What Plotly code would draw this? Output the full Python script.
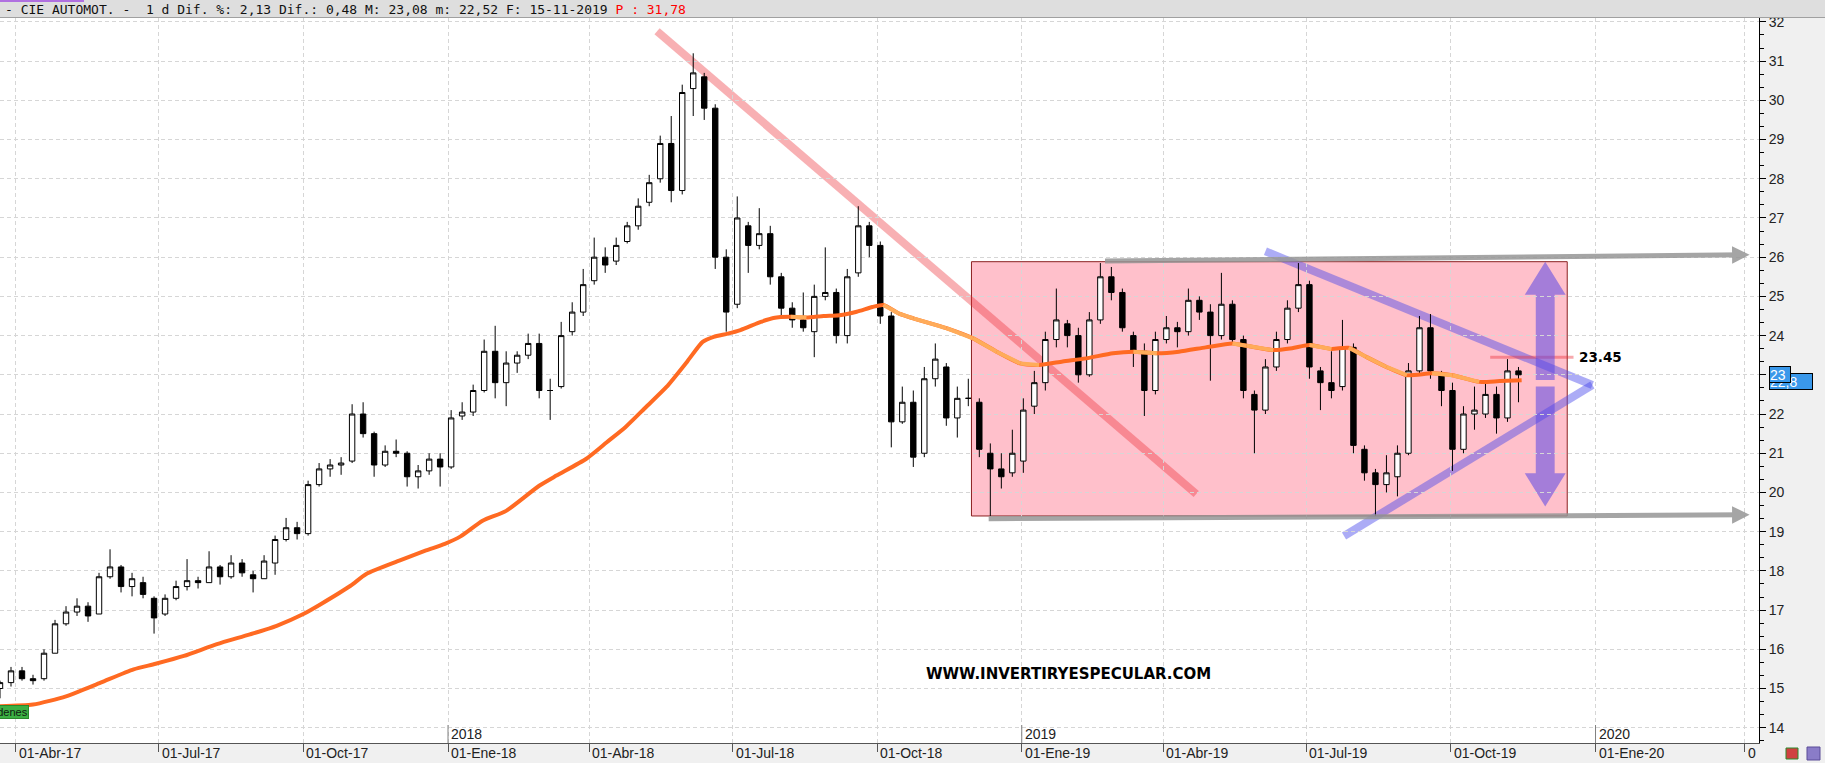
import pandas as pd
import plotly.graph_objects as go

# ---------------- data (weekly candles) ----------------
first_week = "2017-03-22"
opens = [15.0, 15.15, 15.45, 15.25, 15.25, 15.9, 16.65, 16.95, 17.1, 16.9,
         17.85, 18.1, 17.6, 17.7, 17.3, 16.9, 17.3, 17.6, 17.75, 17.7,
         18.1, 17.85, 18.2, 17.9, 17.8, 18.2, 18.8, 19.1, 18.95, 20.2,
         20.6, 20.7, 20.8, 22.0, 21.5, 20.7, 21.05, 21.0, 20.4, 20.55,
         20.85, 20.65, 21.95, 22.05, 22.6, 23.6, 22.8, 23.3, 23.5, 23.8,
         22.6, 22.7, 24.1, 24.6, 25.4, 26.0, 25.9, 26.4, 26.8, 27.4,
         28.0, 28.9, 27.7, 30.3, 30.6, 29.8, 26.0, 24.8, 26.8, 26.3,
         26.6, 25.5, 24.7, 24.4, 24.1, 25.0, 25.1, 24.0, 25.6, 26.8,
         26.3, 24.5, 21.8, 22.3, 21.0, 22.9, 23.2, 21.9, 22.4, 22.3,
         21.0, 20.6, 20.5, 20.8, 22.2, 22.8, 23.9, 24.3, 24.0, 23.0,
         24.4, 25.5, 25.1, 24.0, 23.6, 22.6, 23.9, 24.2, 24.1, 24.9,
         24.6, 24.0, 24.8, 23.9, 22.5, 22.1, 23.2, 23.9, 24.7, 25.3,
         23.1, 22.8, 22.7, 23.7, 21.1, 20.5, 20.2, 20.4, 21.0, 23.1,
         24.2, 23.0, 22.6, 21.1, 22.0, 22.0, 22.5, 21.9, 23.1]
highs = [15.2, 15.55, 15.55, 15.35, 16.0, 16.75, 17.1, 17.3, 17.2, 17.95,
         18.55, 18.15, 17.95, 17.85, 17.35, 17.4, 17.75, 18.3, 17.85, 18.5,
         18.15, 18.4, 18.3, 18.0, 18.4, 18.9, 19.35, 19.25, 20.3, 20.75,
         20.85, 20.9, 22.25, 22.3, 21.55, 21.2, 21.35, 21.05, 20.7, 21.0,
         21.0, 22.1, 22.3, 22.75, 23.9, 24.25, 23.6, 23.6, 24.05, 24.05,
         22.9, 24.35, 24.85, 25.7, 26.5, 26.25, 26.5, 26.9, 27.5, 28.1,
         29.1, 29.6, 30.4, 31.2, 30.7, 29.9, 26.2, 27.55, 26.9, 27.25,
         26.8, 25.6, 24.85, 25.1, 25.3, 26.25, 25.2, 25.7, 27.3, 26.9,
         26.4, 24.6, 22.7, 22.6, 23.2, 23.8, 23.3, 22.7, 22.9, 22.4,
         21.25, 21.0, 21.6, 22.4, 23.1, 24.1, 25.2, 24.4, 24.2, 24.6,
         25.85, 25.75, 25.2, 24.1, 23.8, 24.1, 24.5, 24.35, 25.2, 25.0,
         24.8, 25.6, 24.9, 24.0, 22.6, 23.4, 24.1, 24.9, 25.85, 25.4,
         23.2, 23.6, 24.4, 23.8, 21.2, 20.6, 20.95, 21.2, 23.3, 24.5,
         24.55, 23.1, 22.8, 22.2, 22.7, 22.8, 22.7, 23.4, 23.2]
lows = [14.75, 15.05, 15.2, 15.1, 15.2, 15.9, 16.6, 16.85, 16.7, 16.9,
        17.8, 17.45, 17.35, 17.3, 16.4, 16.85, 17.25, 17.5, 17.55, 17.7,
        17.65, 17.8, 17.85, 17.45, 17.8, 17.9, 18.75, 18.8, 18.9, 20.15,
        20.4, 20.45, 20.75, 21.4, 20.4, 20.65, 20.9, 20.15, 20.1, 20.45,
        20.15, 20.6, 21.85, 21.95, 22.55, 22.4, 22.2, 23.05, 23.4, 22.4,
        21.85, 22.65, 24.0, 24.5, 25.3, 25.6, 25.8, 26.35, 26.7, 27.3,
        27.9, 27.4, 27.6, 29.6, 29.5, 25.7, 24.1, 24.7, 25.6, 26.2,
        25.3, 24.5, 24.2, 24.1, 23.45, 24.9, 23.8, 23.8, 25.5, 26.0,
        24.3, 21.15, 21.75, 20.65, 20.9, 22.7, 21.7, 21.4, 22.2, 20.9,
        19.4, 20.1, 20.4, 20.5, 22.0, 22.6, 23.7, 23.7, 22.8, 22.95,
        24.3, 24.9, 24.1, 23.2, 21.95, 22.5, 23.8, 23.7, 24.0, 24.4,
        22.85, 23.9, 23.8, 22.4, 21.0, 22.0, 23.1, 23.8, 24.6, 22.9,
        22.1, 22.4, 22.6, 21.0, 20.3, 19.4, 20.0, 19.9, 20.95, 23.0,
        22.9, 22.2, 20.55, 21.0, 21.6, 21.9, 21.5, 21.8, 22.3]
closes = [15.15, 15.45, 15.25, 15.2, 15.9, 16.65, 16.95, 17.1, 16.85, 17.85,
          18.1, 17.6, 17.8, 17.4, 16.8, 17.3, 17.6, 17.75, 17.7, 18.1,
          17.85, 18.2, 17.95, 17.8, 18.25, 18.8, 19.1, 18.95, 20.2, 20.6,
          20.7, 20.75, 22.0, 21.5, 20.7, 21.05, 21.0, 20.4, 20.55, 20.85,
          20.65, 21.9, 22.05, 22.6, 23.6, 22.8, 23.3, 23.5, 23.8, 22.6,
          22.6, 24.0, 24.6, 25.3, 26.0, 25.8, 26.3, 26.8, 27.3, 27.9,
          28.9, 27.7, 30.2, 30.7, 29.8, 26.0, 24.6, 27.0, 26.3, 26.6,
          25.5, 24.7, 24.4, 24.2, 25.0, 25.1, 24.0, 25.5, 26.8, 26.3,
          24.5, 21.8, 22.3, 20.9, 22.9, 23.4, 21.9, 22.4, 22.4, 21.1,
          20.6, 20.4, 21.0, 22.1, 22.8, 23.9, 24.4, 24.0, 23.0, 24.4,
          25.5, 25.1, 24.2, 23.6, 22.6, 23.9, 24.2, 24.1, 24.9, 24.6,
          24.0, 24.8, 23.9, 22.6, 22.1, 23.2, 23.9, 24.7, 25.3, 23.2,
          22.8, 22.6, 23.7, 21.2, 20.5, 20.2, 20.5, 21.0, 23.1, 24.2,
          23.1, 22.6, 21.1, 22.0, 22.1, 22.5, 21.9, 23.1, 23.0]

# 200-session moving average (orange)
ma_dates = ["2017-03-22", "2017-04-12", "2017-05-03", "2017-05-25", "2017-06-15",
            "2017-06-29", "2017-07-17", "2017-08-07", "2017-08-28", "2017-09-14",
            "2017-10-01", "2017-10-12", "2017-10-31", "2017-11-10", "2017-12-01",
            "2017-12-18", "2017-12-30", "2018-01-09", "2018-01-23", "2018-02-07",
            "2018-02-28", "2018-03-11", "2018-03-30", "2018-04-12", "2018-04-24",
            "2018-05-07", "2018-05-20", "2018-06-02", "2018-06-12", "2018-06-19",
            "2018-06-28", "2018-07-06", "2018-07-19", "2018-07-27", "2018-08-07",
            "2018-08-17", "2018-08-28", "2018-09-07", "2018-09-18", "2018-09-28",
            "2018-10-05", "2018-10-15", "2018-10-24", "2018-11-14", "2018-12-01",
            "2018-12-16", "2018-12-31", "2019-01-12", "2019-01-27", "2019-02-11",
            "2019-02-28", "2019-03-13", "2019-03-28", "2019-04-11", "2019-04-28",
            "2019-05-15", "2019-05-24", "2019-06-10", "2019-06-22", "2019-07-03",
            "2019-07-17", "2019-07-28", "2019-08-08", "2019-08-21", "2019-09-03",
            "2019-09-19", "2019-10-02", "2019-10-19", "2019-11-01", "2019-11-15"]
ma_values = [14.55, 14.59, 14.8, 15.15, 15.49,
             15.63, 15.83, 16.13, 16.38, 16.6,
             16.9, 17.15, 17.62, 17.92, 18.26,
             18.52, 18.69, 18.88, 19.28, 19.53,
             20.17, 20.43, 20.86, 21.28, 21.67,
             22.18, 22.69, 23.33, 23.84, 23.97,
             24.05, 24.14, 24.35, 24.45, 24.48,
             24.46, 24.5, 24.52, 24.61, 24.73,
             24.78, 24.56, 24.44, 24.19, 23.93,
             23.59, 23.29, 23.25, 23.34, 23.42,
             23.55, 23.59, 23.55, 23.59, 23.7,
             23.8, 23.74, 23.63, 23.68, 23.76,
             23.66, 23.69, 23.46, 23.2, 22.99,
             23.04, 22.99, 22.82, 22.84, 22.86]

tick_dates = ["2017-04-01", "2017-07-01", "2017-10-01", "2018-01-01", "2018-04-01",
              "2018-07-01", "2018-10-01", "2019-01-01", "2019-04-01", "2019-07-01",
              "2019-10-01", "2020-01-01", "2020-04-05"]
tick_labels = ["01-Abr-17", "01-Jul-17", "01-Oct-17", "01-Ene-18", "01-Abr-18",
               "01-Jul-18", "01-Oct-18", "01-Ene-19", "01-Abr-19", "01-Jul-19",
               "01-Oct-19", "01-Ene-20", "0"]
year_dates = ["2018-01-01", "2019-01-01", "2020-01-01"]
year_labels = ["2018", "2019", "2020"]

level_label = 23.45
last_price_labels = ["22,8", "23"]
last_price_values = [22.82, 23.01]

# ---------------- figure ----------------
W, H = 1825, 763
ML, MR, MT, MB = 0, 66, 18, 20
PW, PH = W - ML - MR, H - MT - MB
FONT = "Liberation Sans"

week_dates = pd.date_range(first_week, periods=len(closes), freq="7D")

fig = go.Figure()
fig.add_trace(go.Candlestick(
    x=week_dates, open=opens, high=highs, low=lows, close=closes,
    increasing=dict(line=dict(color="black", width=1), fillcolor="white"),
    decreasing=dict(line=dict(color="black", width=1), fillcolor="black"),
    whiskerwidth=0, hoverinfo="skip", showlegend=False))

# moving average: dark where rising, light where falling
fig.add_trace(go.Scatter(x=ma_dates, y=ma_values, mode="lines",
                         line=dict(color="#ff6a22", width=4, shape="spline", smoothing=0.6),
                         hoverinfo="skip"))
lx, ly = [], []
for i in range(len(ma_values) - 1):
    if ma_values[i + 1] < ma_values[i]:
        lx += [ma_dates[i], ma_dates[i + 1], None]
        ly += [ma_values[i], ma_values[i + 1], None]
fig.add_trace(go.Scatter(x=lx, y=ly, mode="lines",
                         line=dict(color="#ffac5a", width=4), hoverinfo="skip"))

shapes = []
# pink consolidation box
shapes.append(dict(type="rect", xref="x", yref="y", x0="2018-11-30", x1="2019-12-14",
                   y0=19.40, y1=25.885, fillcolor="#ffc0cb",
                   line=dict(color="#8b2020", width=1), layer="below"))
# downtrend line
shapes.append(dict(type="line", xref="x", yref="y", x0="2018-05-14", y0=31.76,
                   x1="2019-04-22", y1=19.96,
                   line=dict(color="rgba(235,40,50,0.37)", width=8), layer="below"))
# triangle lines
shapes.append(dict(type="line", xref="x", yref="y", x0="2019-06-05", y0=26.15,
                   x1="2019-12-30", y1=22.74,
                   line=dict(color="rgba(70,70,235,0.45)", width=8), layer="below"))
shapes.append(dict(type="line", xref="x", yref="y", x0="2019-07-25", y0=18.89,
                   x1="2019-12-30", y1=22.74,
                   line=dict(color="rgba(70,70,235,0.45)", width=8), layer="below"))
# 23.45 level
shapes.append(dict(type="line", xref="x", yref="y", x0="2019-10-26", y0=level_label,
                   x1="2019-12-18", y1=level_label,
                   line=dict(color="rgba(235,40,50,0.4)", width=3), layer="below"))
# vertical double arrow
up = ("M2019-11-30,25.885 L2019-12-13,25.04 L2019-12-06,25.04 L2019-12-06,22.87 "
      "L2019-11-24,22.87 L2019-11-24,25.04 L2019-11-17,25.04 Z")
dn = ("M2019-11-24,22.70 L2019-12-06,22.70 L2019-12-06,20.49 L2019-12-13,20.49 "
      "L2019-11-30,19.64 L2019-11-17,20.49 L2019-11-24,20.49 Z")
for p in (up, dn):
    shapes.append(dict(type="path", xref="x", yref="y", path=p,
                       fillcolor="rgba(90,70,230,0.55)", line=dict(width=0), layer="below"))
# year markers on the time axis
for d in year_dates:
    shapes.append(dict(type="line", xref="x", yref="paper", x0=d, x1=d, y0=0, y1=18 / PH,
                       line=dict(color="#808080", width=1), layer="above"))
# header bar
shapes.append(dict(type="rect", xref="paper", yref="paper", x0=0, x1=W / PW,
                   y0=1, y1=1 + MT / PH, fillcolor="#dedede",
                   line=dict(width=0), layer="above"))
shapes.append(dict(type="line", xref="paper", yref="paper", x0=0, x1=W / PW,
                   y0=1 + 0.5 / PH, y1=1 + 0.5 / PH, line=dict(color="#a0a0a0", width=1),
                   layer="above"))
shapes.append(dict(type="line", xref="paper", yref="paper", x0=0, x1=84 / PW,
                   y0=1 + (MT - 1) / PH, y1=1 + (MT - 1) / PH,
                   line=dict(color="#b070e0", width=2), layer="above"))
# small icons bottom right
shapes.append(dict(type="rect", xref="paper", yref="paper", x0=1807 / PW, x1=1820 / PW,
                   y0=-17 / PH, y1=-4 / PH, fillcolor="#8a7cc8",
                   line=dict(color="#5a4c98", width=1), layer="above"))
shapes.append(dict(type="rect", xref="paper", yref="paper", x0=1786 / PW, x1=1798 / PW,
                   y0=-16 / PH, y1=-5 / PH, fillcolor="#d04040",
                   line=dict(color="#2a8a2a", width=1), layer="above"))

ann = []
# grey horizontal arrows
ann.append(dict(x="2020-04-08", y=26.06, ax="2019-02-22", ay=25.90, xref="x", yref="y",
                axref="x", ayref="y", text="", showarrow=True, arrowhead=2,
                arrowsize=0.7, arrowwidth=5, arrowcolor="rgba(150,150,150,0.85)"))
ann.append(dict(x="2020-04-08", y=19.43, ax="2018-12-10", ay=19.33, xref="x", yref="y",
                axref="x", ayref="y", text="", showarrow=True, arrowhead=2,
                arrowsize=0.7, arrowwidth=5, arrowcolor="rgba(150,150,150,0.85)"))
# level label
ann.append(dict(x=1577 / PW, y=level_label, xref="paper", yref="y", xanchor="left",
                yanchor="middle", showarrow=False, text="<b>%.2f</b>" % level_label,
                font=dict(family="DejaVu Sans", size=13.5, color="black")))
# watermark
ann.append(dict(x=1068 / PW, y=15.37, xref="paper", yref="y", xanchor="center",
                yanchor="middle", showarrow=False, text="<b>WWW.INVERTIRYESPECULAR.COM</b>",
                font=dict(family="DejaVu Sans", size=15, color="black")))
# "Órdenes" tab
ann.append(dict(x=29 / PW, y=(PH - (712 - MT)) / PH, xref="paper", yref="paper",
                xanchor="right", yanchor="middle", showarrow=False, text="Órdenes",
                bgcolor="#3cb043", bordercolor="#2a8a2a", borderwidth=1, borderpad=0,
                font=dict(family=FONT, size=11, color="#102010")))
# x tick labels (left aligned)
for d, t in zip(tick_dates, tick_labels):
    ann.append(dict(x=d, y=-10 / PH, xref="x", yref="paper", xanchor="left",
                    yanchor="middle", xshift=1, showarrow=False, text=t,
                    font=dict(family=FONT, size=14, color="#222")))
for d, t in zip(year_dates, year_labels):
    ann.append(dict(x=d, y=9 / PH, xref="x", yref="paper", xanchor="left",
                    yanchor="middle", xshift=1, showarrow=False, text=t,
                    font=dict(family=FONT, size=14, color="#222")))
# last price boxes on the price axis
for t, v, w in zip(last_price_labels, last_price_values, (42, 20)):
    ann.append(dict(x=1769 / PW, y=v, xref="paper", yref="y", xanchor="left",
                    yanchor="middle", showarrow=False, text=t, width=w, height=15,
                    align="left", bgcolor="#3a98ea", bordercolor="black", borderwidth=1,
                    borderpad=0, font=dict(family=FONT, size=14, color="white")))
# header text
ann.append(dict(x=0, y=1 + 9 / PH, xref="paper", yref="paper", xanchor="left",
                yanchor="middle", xshift=3, showarrow=False,
                text=("- CIE AUTOMOT. -  1 d Dif. %: 2,13 Dif.: 0,48 M: 23,08 m: 22,52 "
                      "F: 15-11-2019 <span style='color:#ff0000'>P : 31,78</span>"),
                font=dict(family="DejaVu Sans Mono", size=13, color="#111")))

fig.update_layout(
    width=W, height=H, autosize=False,
    margin=dict(l=ML, r=MR, t=MT, b=MB, pad=0),
    paper_bgcolor="#f0f0f0", plot_bgcolor="white",
    showlegend=False, shapes=shapes, annotations=ann,
    xaxis=dict(type="date", range=["2017-03-22", "2020-04-14"],
               rangeslider=dict(visible=False),
               tickvals=tick_dates, showticklabels=False,
               ticks="outside", ticklen=8, tickcolor="#555",
               showgrid=True, gridcolor="#d6d6d6", griddash="4px,3px", gridwidth=1,
               showline=True, linecolor="#555", linewidth=1, zeroline=False),
    yaxis=dict(side="right", range=[13.61, 32.1], tick0=14, dtick=1,
               ticks="outside", ticklen=6, tickcolor="black",
               minor=dict(dtick=1 / 3, ticks="outside", ticklen=4, tickcolor="black",
                          showgrid=False),
               showgrid=True, gridcolor="#d6d6d6", griddash="4px,3px", gridwidth=1,
               showline=True, linecolor="black", linewidth=1, zeroline=False,
               tickfont=dict(family=FONT, size=14, color="#222")),
)

fig.write_html("out.html", config={"displayModeBar": False},
               post_script="document.body.style.margin='0px';document.body.style.overflow='hidden';")
